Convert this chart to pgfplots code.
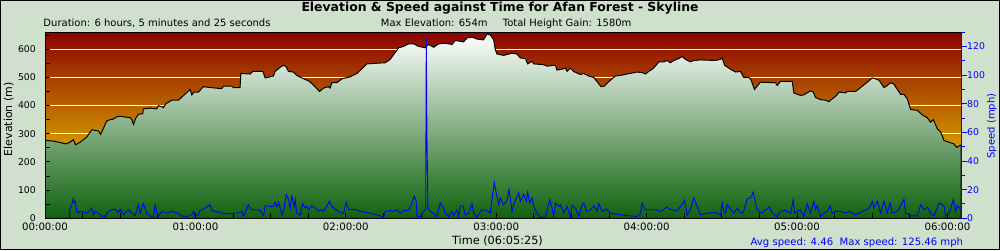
\documentclass[border=0pt]{standalone}
\usepackage{pgfplots}
\pgfplotsset{compat=1.18}
\usepackage{fontspec}
\setmainfont{DejaVu Sans}
\definecolor{pagebg}{RGB}{207,224,205}
\definecolor{bgtop}{RGB}{138,4,0}
\definecolor{bgbot}{RGB}{255,245,0}
\definecolor{elevtop}{RGB}{255,255,255}
\definecolor{elevmid}{RGB}{135,185,135}
\definecolor{elevbot}{RGB}{14,98,14}
\newcommand{\fs}[1]{\fontsize{#1bp}{#1bp}\selectfont}
\pgfplotstableread{
h e
0 279
0.011 276
0.055 274
0.1 269
0.14 264
0.166 270
0.188 279
0.204 261
0.233 270
0.277 288
0.311 314
0.333 312
0.355 310
0.37 298
0.41 345
0.432 350
0.455 352
0.477 360
0.499 362
0.566 357
0.577 350
0.588 333
0.605 357
0.621 369
0.65 371
0.654 388
0.699 391
0.743 388
0.754 400
0.787 393
0.805 407
0.843 419
0.887 419
0.965 457
0.976 438
0.991 448
1.02 448
1.053 467
1.098 464
1.175 460
1.187 469
1.242 469
1.253 464
1.297 464
1.302 514
1.364 512
1.38 521
1.448 521
1.464 498
1.519 505
1.53 521
1.564 536
1.586 543
1.603 538
1.619 521
1.652 519
1.674 507
1.719 495
1.752 488
1.785 473
1.825 450
1.852 462
1.885 467
1.896 462
1.907 481
1.941 481
1.974 495
2.029 502
2.074 514
2.14 548
2.262 552
2.295 564
2.351 605
2.384 610
2.418 619
2.451 619
2.484 610
2.528 605
2.55 617
2.584 607
2.617 619
2.661 621
2.706 617
2.728 631
2.783 626
2.806 640
2.839 643
2.872 636
2.916 633
2.939 654
2.961 650
2.983 633
2.994 598
3.005 583
3.049 578
3.105 586
3.138 583
3.16 569
3.194 567
3.209 548
3.238 557
3.249 548
3.316 545
3.338 540
3.394 543
3.404 526
3.438 529
3.46 533
3.471 521
3.493 533
3.515 521
3.56 510
3.582 514
3.615 505
3.648 500
3.666 488
3.697 467
3.719 469
3.737 479
3.77 495
3.792 505
3.826 507
3.87 512
3.937 519
3.97 517
3.992 512
4.014 521
4.047 533
4.081 555
4.114 555
4.136 560
4.158 552
4.18 560
4.214 567
4.236 574
4.258 564
4.291 555
4.314 560
4.358 562
4.458 560
4.491 564
4.502 569
4.518 543
4.558 529
4.591 519
4.624 521
4.646 500
4.68 500
4.695 490
4.717 457
4.757 483
4.857 481
4.868 471
4.89 486
4.968 486
4.979 445
5.023 436
5.045 438
5.09 452
5.108 448
5.123 429
5.156 421
5.19 419
5.212 414
5.234 424
5.263 436
5.279 448
5.323 445
5.334 450
5.389 450
5.423 464
5.467 483
5.5 498
5.522 495
5.545 490
5.578 464
5.6 471
5.622 481
5.644 476
5.667 457
5.689 440
5.711 440
5.733 424
5.755 386
5.8 383
5.833 367
5.866 357
5.888 341
5.906 350
5.933 317
5.955 307
5.977 276
5.999 272
6.044 264
6.061 252
6.0903 260
}\elevtable
\pgfplotstableread{
h s
0.162 0
0.166 7.1
0.177 8.8
0.188 13.6
0.195 10.7
0.202 11.7
0.211 4.8
0.222 3.6
0.233 4.8
0.255 4.3
0.277 3.6
0.288 4.5
0.311 7.1
0.322 2.4
0.333 4.8
0.355 3.6
0.377 1.7
0.399 1.2
0.421 4.8
0.444 6
0.466 6.4
0.488 4
0.499 6.4
0.521 2.4
0.543 4.8
0.554 6
0.577 3.6
0.599 1.7
0.621 9.5
0.632 3.6
0.654 10.2
0.676 3.6
0.699 1.7
0.721 0.7
0.732 9.5
0.743 3.6
0.754 1.2
0.776 4.8
0.81 3.6
0.843 4.8
0.876 4
0.909 1.7
0.943 1.2
0.976 2.4
0.987 4.8
0.998 1.2
1.02 2.4
1.031 5.5
1.053 6.4
1.098 9.5
1.109 5.5
1.164 4
1.187 3.1
1.209 3.1
1.275 3.6
1.309 4.8
1.32 1.7
1.353 9.5
1.364 6.4
1.43 5.5
1.453 1.7
1.464 8.8
1.497 8.3
1.519 8.3
1.53 11.2
1.542 7.9
1.553 11.2
1.575 2.4
1.586 4.8
1.604 16.7
1.619 13.1
1.63 7.1
1.641 15.5
1.657 8.3
1.663 13.1
1.674 3.6
1.697 2.4
1.714 10.2
1.73 7.1
1.741 8.3
1.752 6
1.774 8.8
1.808 6.4
1.819 4.8
1.83 6
1.852 4.8
1.892 11.9
1.907 8.3
1.941 5.5
1.963 4
1.985 3.6
2.003 11.2
2.018 6.4
2.074 6
2.096 4.8
2.162 3.6
2.229 1.7
2.251 0.7
2.262 4.8
2.295 5.5
2.318 4.8
2.34 6
2.362 3.6
2.384 5.5
2.418 5.5
2.44 10.7
2.455 15.5
2.468 11.9
2.473 1.2
2.495 1.2
2.517 4.8
2.531 6
2.535 125.46
2.539 62
2.546 7.1
2.562 4.8
2.584 3.6
2.606 1.2
2.628 10.7
2.65 7.1
2.661 3.6
2.684 1.2
2.706 4.8
2.717 1.7
2.739 6
2.75 1.2
2.761 8.8
2.779 8.8
2.794 2.4
2.817 3.6
2.839 10.2
2.85 3.6
2.872 0.7
2.905 6
2.939 5.5
2.961 3.6
2.972 13.1
2.987 25
3.0 17.9
3.016 9.5
3.027 14.3
3.049 9.5
3.072 12.6
3.085 20.2
3.105 4.8
3.116 9.5
3.149 17.9
3.16 11.9
3.172 14.3
3.183 16.7
3.201 11.9
3.209 18.3
3.223 10.7
3.238 14.3
3.249 8.3
3.271 3.6
3.294 0.7
3.327 0.7
3.356 13.1
3.371 7.1
3.382 1.2
3.394 10.7
3.416 8.3
3.427 9.5
3.449 3.6
3.471 8.3
3.493 1.2
3.504 8.8
3.527 7.1
3.549 1.2
3.571 9.5
3.582 10.7
3.6 4.8
3.627 6
3.649 8.8
3.671 4.8
3.682 10.2
3.704 4.8
3.733 6.4
3.76 3.6
3.826 2.4
3.892 1.7
3.937 1.2
3.959 3.6
3.97 10.7
3.992 6
4.025 6
4.058 6
4.092 4.8
4.136 7.9
4.158 6
4.203 5.5
4.236 9.5
4.252 12.6
4.27 2.4
4.291 6
4.314 14.3
4.336 8.3
4.358 2.4
4.402 3.6
4.458 4
4.491 2.4
4.502 10.7
4.514 4.8
4.525 3.6
4.536 9.5
4.558 6.4
4.58 3.6
4.602 7.1
4.624 4
4.642 3.6
4.658 9.5
4.669 13.6
4.691 14.3
4.709 18.3
4.717 14.3
4.731 7.1
4.746 4.8
4.768 3.6
4.791 6
4.819 7.9
4.835 3.6
4.868 1.2
4.89 4.8
4.923 5.5
4.957 3.6
4.975 13.1
4.983 3.6
5.001 4.8
5.023 6
5.045 1.2
5.068 10.2
5.09 3.6
5.112 11.9
5.123 6
5.134 8.8
5.156 1.2
5.179 3.6
5.201 4.8
5.219 8.8
5.234 3.6
5.257 4.8
5.29 4.8
5.323 3.6
5.346 4.8
5.39 2.4
5.412 3.6
5.467 6.4
5.489 8.8
5.5 11.9
5.511 7.1
5.534 11.9
5.556 3.6
5.578 11.9
5.6 3.6
5.618 10.7
5.633 3.6
5.667 4.8
5.711 13.1
5.722 3.6
5.756 1.7
5.8 1.7
5.822 9.5
5.844 6
5.866 7.9
5.889 3.6
5.911 1.7
5.944 10.7
5.977 8.8
5.989 1.2
6.011 3.6
6.04 13.1
6.055 4.8
6.066 8.8
6.088 6.4
}\speedtable
\begin{document}
\begin{tikzpicture}[x=1bp,y=1bp]
\path[use as bounding box] (0,0) rectangle (1000,250);
\fill[pagebg] (0,0) rectangle (1000,250);
\draw[black,line width=1bp] (0.5,0.5) rectangle (999.5,249.5);
% elevation: background, grid, fill, tick labels
\begin{axis}[
  at={(45bp,31.7bp)}, anchor=south west, scale only axis,
  width=916bp, height=186bp,
  xmin=0, xmax=6.0903, ymin=0, ymax=660,
  axis background/.style={top color=bgtop, bottom color=bgbot},
  axis line style={line width=1bp},
  /pgf/number format/assume math mode=true,
  xtick={0,1,2,3,4,5,6},
  xticklabels={00:00:00,01:00:00,02:00:00,03:00:00,04:00:00,05:00:00,06:00:00},
  ytick={0,100,...,600},
  xtick pos=left, ytick pos=left,
  major tick length=0pt, minor tick length=0pt,
  ymajorgrids, major grid style={white, line width=1bp},
  xticklabel style={font=\fs{10.2}, anchor=base, inner sep=0pt, yshift=-11.7bp},
  yticklabel style={font=\fs{9.3}, anchor=east, inner sep=0pt},
  yticklabel shift=9bp,
]
\addplot[draw=black, line width=1bp, top color=elevtop, middle color=elevmid, bottom color=elevbot] table[x=h,y=e] {\elevtable} \closedcycle;
\end{axis}
% elevation: frame and inner ticks on top of the fill
\begin{axis}[
  at={(45bp,31.7bp)}, anchor=south west, scale only axis,
  width=916bp, height=186bp,
  xmin=0, xmax=6.0903, ymin=0, ymax=660,
  axis line style={line width=1bp},
  xtick={0,1,2,3,4,5,6}, minor xtick={0.25,0.5,...,6},
  ytick={0,100,...,600}, minor ytick={50,150,...,650},
  xticklabels={}, yticklabels={},
  xtick pos=left, ytick pos=left, tick align=inside,
  major tick length=5bp, minor tick length=5bp,
  tick style={black, line width=1bp},
]
\end{axis}
% speed
\begin{axis}[
  at={(45bp,31.7bp)}, anchor=south west, scale only axis,
  width=916bp, height=186bp,
  xmin=0, xmax=6.0903, ymin=0, ymax=130,
  axis x line=none, axis y line=right,
  y axis line style={-, blue, line width=1bp},
  /pgf/number format/assume math mode=true,
  ytick={0,20,...,120}, minor ytick={10,30,...,130},
  tick align=outside, major tick length=6bp, minor tick length=4bp,
  ytick style={blue, line width=1bp},
  yticklabel style={font=\fs{9.3}, text=blue, anchor=west, inner sep=0pt},
]
\addplot[blue, line width=0.9bp] table[x=h,y=s] {\speedtable};
\end{axis}
% texts
\node[anchor=base, inner sep=0pt, font=\fs{12.4}\bfseries] at (500,238.3) {Elevation \& Speed against Time for Afan Forest - Skyline};
\node[anchor=base west, inner sep=0pt, font=\fs{10}] at (43.3,223.3) {Duration: 6 hours, 5 minutes and 25 seconds};
\node[anchor=base west, inner sep=0pt, font=\fs{10}] at (380.7,223.3) {Max Elevation: 654m};
\node[anchor=base west, inner sep=0pt, font=\fs{10}] at (502.7,223.3) {Total Height Gain: 1580m};
\node[anchor=base, inner sep=0pt, font=\fs{11.3}] at (497.5,5.7) {Time (06:05:25)};
\node[anchor=base east, inner sep=0pt, font=\fs{10.1}, text=blue] at (963.3,4.4) {Avg speed: 4.46\ \ Max speed: 125.46 mph};
\node[rotate=90, anchor=base, inner sep=0pt, font=\fs{11}] at (12.2,130.8) {Elevation (m)};
\node[rotate=90, anchor=base, inner sep=0pt, font=\fs{10}, text=blue] at (994.6,124) {Speed (mph)};
\end{tikzpicture}
\end{document}
